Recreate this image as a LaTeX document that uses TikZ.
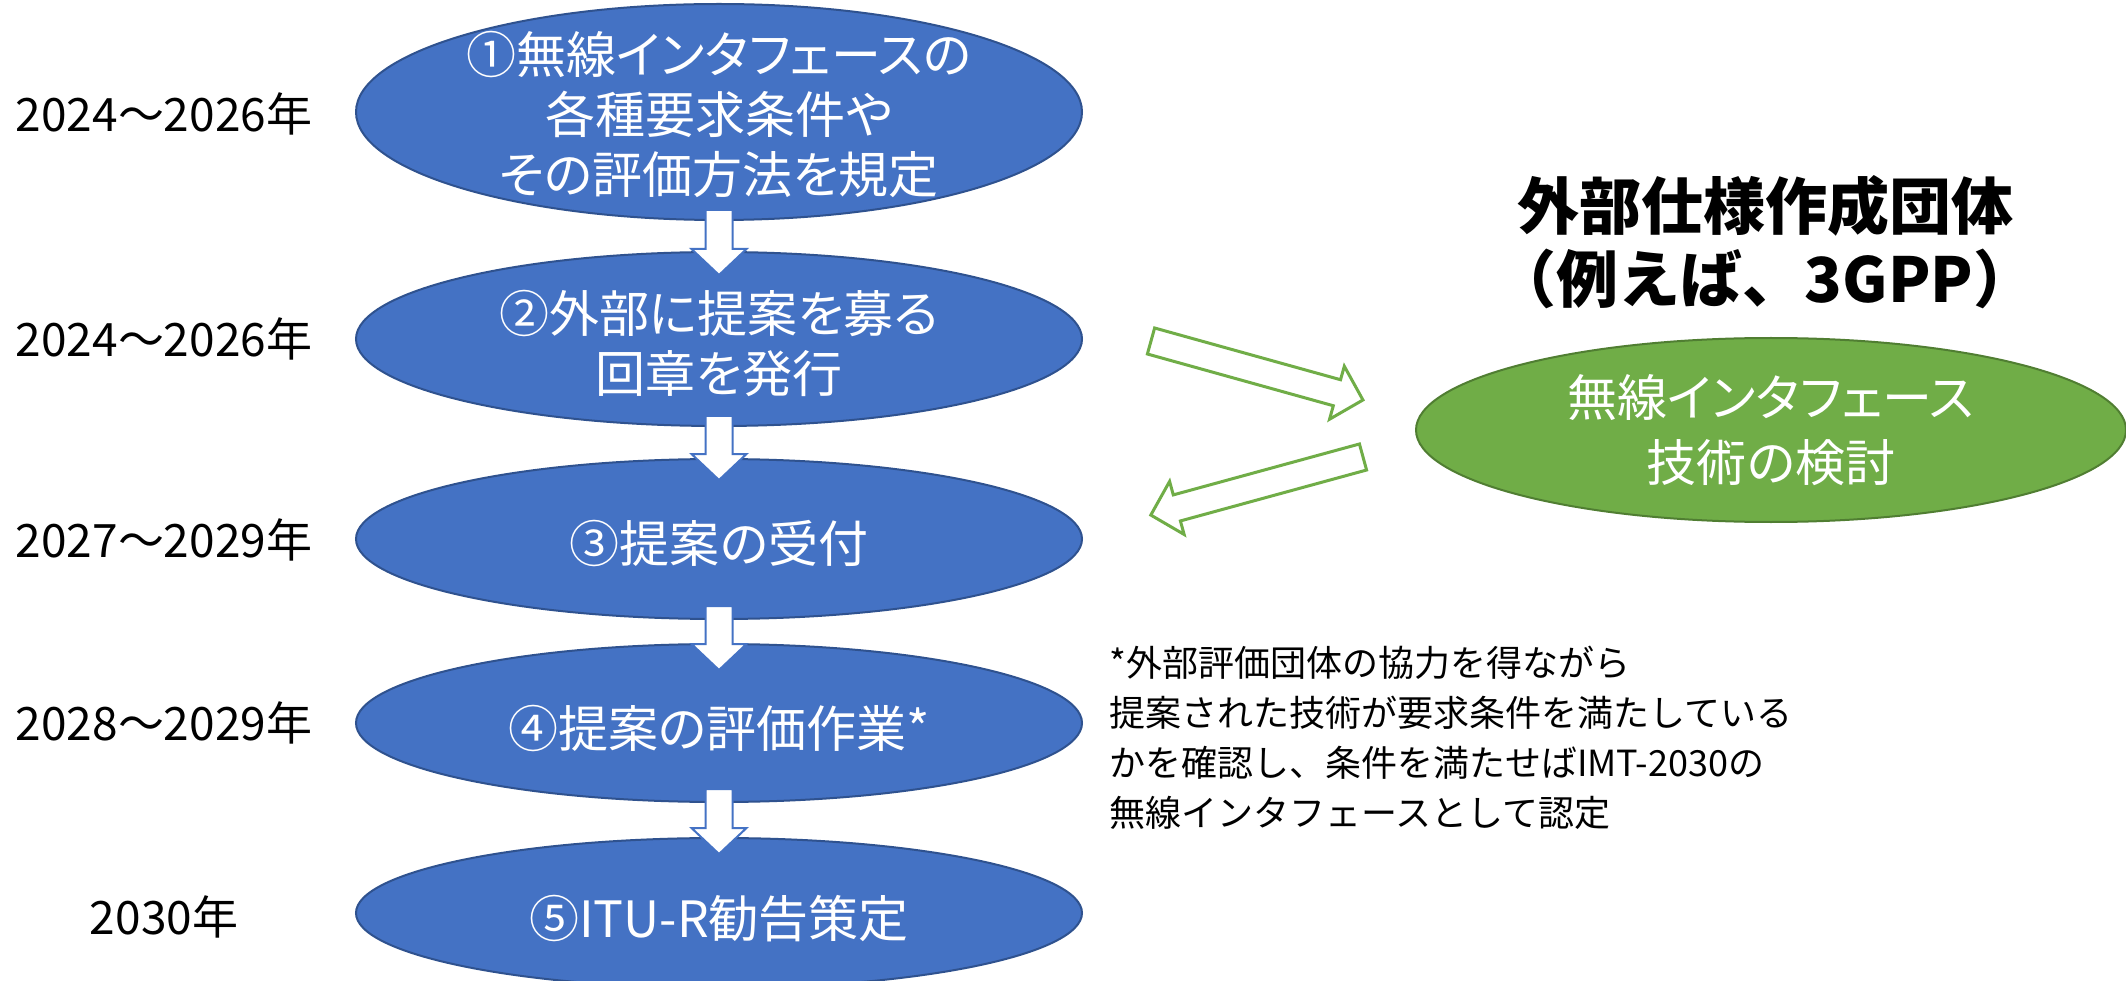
\documentclass[tikz,border=0pt]{standalone}
\usepackage{fontspec}
\setmainfont{Noto Sans CJK JP}
\newfontfamily\jpp[RawFeature=+palt]{Noto Sans CJK JP}
\usetikzlibrary{shapes.geometric}
\definecolor{bfill}{HTML}{4472C4}
\definecolor{bline}{HTML}{2F528F}
\definecolor{gfill}{HTML}{70AD47}
\definecolor{gline}{HTML}{507E32}
\tikzset{
  pics/barrow/.style n args={5}{code={%
    \draw[#5] (0,-#3) -- ({#1-#2},-#3) -- ({#1-#2},-#4) -- (#1,0) -- ({#1-#2},#4) -- ({#1-#2},#3) -- (0,#3) -- cycle;
  }},
  blueell/.style={ellipse, fill=bfill, draw=bline, line width=2pt, minimum width=726pt, inner sep=0pt},
  greenell/.style={ellipse, fill=gfill, draw=gline, line width=2pt, minimum width=710pt, minimum height=184pt, inner sep=0pt},
  etext/.style={text=white, font=\jpp\fontsize{50}{60}\selectfont, align=center, inner sep=0pt},
  yeartext/.style={font=\fontsize{46}{50}\selectfont, inner sep=0pt},
  titletext/.style={font=\bfseries\fontsize{62}{73}\selectfont, align=center, inner sep=0pt},
  notetext/.style={font=\fontsize{36}{50}\selectfont, align=left, inner sep=0pt, anchor=west},
  downarr/.style={draw=bfill, fill=white, line width=2pt},
  grarr/.style={draw=gfill, fill=white, line width=3pt}
}
\begin{document}
\begin{tikzpicture}[x=1pt,y=-1pt]
\useasboundingbox (0,0) rectangle (2126,981);
\clip (0,0) rectangle (2126,981);
\fill[white] (0,0) rectangle (2126,981);

% blue process ellipses
\node[blueell, minimum height=216pt] (e1) at (719,112) {};
\node[blueell, minimum height=174pt] (e2) at (719,339) {};
\node[blueell, minimum height=160pt] (e3) at (719,539) {};
\node[blueell, minimum height=158pt] (e4) at (719,723) {};
\node[blueell, minimum height=150pt] (e5) at (719,913) {};

\node[etext] (t1) at ([yshift=-2pt]e1.center) {①無線インタフェースの\\各種要求条件や\\その評価方法を規定};
\node[etext] (t2) at ([yshift=-4pt]e2.center) {②外部に提案を募る\\回章を発行};
\node[etext] (t3) at ([yshift=-4pt]e3.center) {③提案の受付};
\node[etext] (t4) at ([yshift=-5pt]e4.center) {④提案の評価作業*};
\node[etext] (t5) at ([yshift=-6pt]e5.center) {⑤ITU-R勧告策定};

% down block arrows
\pic[rotate=-90] at ([yshift=11pt]e1.south) {barrow={65}{26}{13.5}{27.5}{downarr}};
\pic[rotate=-90] at ([yshift=11pt]e2.south) {barrow={64}{26}{13.5}{27.5}{downarr}};
\pic[rotate=-90] at ([yshift=14pt]e3.south) {barrow={64}{26}{13.5}{27.5}{downarr}};
\pic[rotate=-90] at ([yshift=14pt]e4.south) {barrow={65}{26}{13.5}{27.5}{downarr}};

% years
\node[yeartext] (y1) at (164,114) {2024～2026年};
\node[yeartext] (y2) at (164,339) {2024～2026年};
\node[yeartext] (y3) at (164,540) {2027～2029年};
\node[yeartext] (y4) at (164,723) {2028～2029年};
\node[yeartext] (y5) at (164,917) {2030年};

% external body
\node[titletext] (title) at (1765,242) {外部仕様作成団体\\（例えば、3GPP）};
\node[greenell] (eg) at (1771,430) {};
\node[etext, font=\jpp\fontsize{50}{65}\selectfont] (tg) at (eg.center) {無線インタフェース\\技術の検討};

% green block arrows
\coordinate (gAs) at (1151,341);
\coordinate (gBs) at (1363,457);
\pic[rotate=-15.55] at (gAs) {barrow={220}{27}{13.5}{27.5}{grarr}};
\pic[rotate=195.3] at (gBs) {barrow={220}{27}{13.5}{27.5}{grarr}};

% note
\node[notetext] (note) at (1109,738) {*外部評価団体の協力を得ながら\\提案された技術が要求条件を満たしている\\かを確認し、条件を満たせばIMT-2030の\\無線インタフェースとして認定};
\end{tikzpicture}
\end{document}
